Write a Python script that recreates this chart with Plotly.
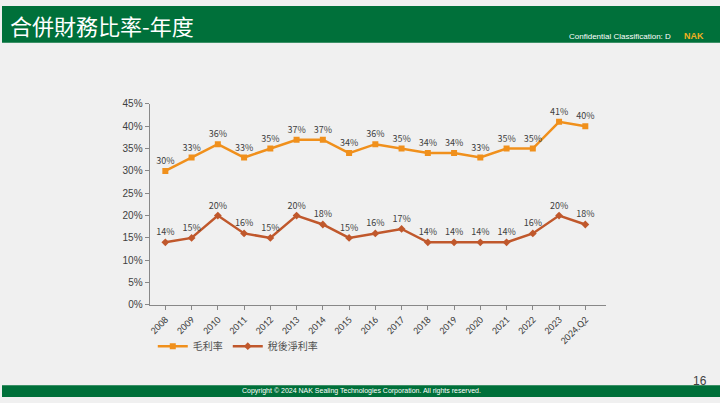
import plotly.graph_objects as go

years = ["2008", "2009", "2010", "2011", "2012", "2013", "2014", "2015", "2016",
         "2017", "2018", "2019", "2020", "2021", "2022", "2023", "2024.Q2"]
gross_margin = [30, 33, 36, 33, 35, 37, 37, 34, 36, 35, 34, 34, 33, 35, 35, 41, 40]
net_margin = [14, 15, 20, 16, 15, 20, 18, 15, 16, 17, 14, 14, 14, 14, 16, 20, 18]
y_ticks = [0, 5, 10, 15, 20, 25, 30, 35, 40, 45]

GREEN = "#00703a"
fig = go.Figure()
fig.add_trace(go.Scatter(
    x=years, y=gross_margin, name="毛利率", mode="lines+markers+text",
    line=dict(color="#f0901c", width=2.5), marker=dict(symbol="square", size=6),
    text=[f"{v}%" for v in gross_margin], textposition="top center",
    textfont=dict(size=9, color="#404040")))
fig.add_trace(go.Scatter(
    x=years, y=net_margin, name="稅後淨利率", mode="lines+markers+text",
    line=dict(color="#c0582c", width=2.5), marker=dict(symbol="diamond", size=6),
    text=[f"{v}%" for v in net_margin], textposition="top center",
    textfont=dict(size=9, color="#404040")))

fig.update_layout(
    autosize=False, width=720, height=403, margin=dict(l=0, r=0, t=0, b=0),
    paper_bgcolor="#f0f0f0", plot_bgcolor="rgba(0,0,0,0)",
    font=dict(family="Noto Sans CJK TC", size=9, color="#404040"),
    xaxis=dict(domain=[148/720, 606/720], tickangle=-45, showline=True,
               linecolor="#888", ticks="outside", ticklen=4, tickcolor="#888",
               showgrid=False, range=[-0.6, 16.8],
               tickfont=dict(size=10, family="Calibri, Liberation Sans")),
    yaxis=dict(domain=[(403-308)/403, (403-101)/403], range=[0, 45],
               tickvals=y_ticks, ticktext=[f"{v}%" for v in y_ticks],
               showline=True, linecolor="#888", ticks="outside", ticklen=4,
               tickcolor="#888", showgrid=False,
               tickfont=dict(size=10, family="Liberation Sans")),
    legend=dict(orientation="h", x=0.21, y=0.13, xanchor="left", yanchor="middle",
                bgcolor="rgba(0,0,0,0)", font=dict(size=10, color="#505050")),
    shapes=[
        dict(type="rect", xref="paper", yref="paper", x0=0, x1=1, y0=1-38/403, y1=1,
             fillcolor=GREEN, line_width=0, layer="below"),
        dict(type="rect", xref="paper", yref="paper", x0=0, x1=1, y0=0, y1=12/403,
             fillcolor=GREEN, line_width=0, layer="below"),
    ],
    annotations=[
        dict(text="合併財務比率-年度", x=6/720, y=1-20/403, xref="paper", yref="paper",
             xanchor="left", yanchor="middle", showarrow=False,
             font=dict(size=22, color="white", family="Noto Sans CJK TC")),
        dict(text="Confidential Classification: D", x=673/720, y=1-31/403, xref="paper",
             yref="paper", xanchor="right", yanchor="middle", showarrow=False,
             font=dict(size=8, color="white", family="Liberation Sans")),
        dict(text="<b>NAK</b>", x=694/720, y=1-31/403, xref="paper", yref="paper",
             xanchor="center", yanchor="middle", showarrow=False,
             font=dict(size=9, color="#f0b020", family="Liberation Sans")),
        dict(text="Copyright © 2024 NAK Sealing Technologies Corporation. All rights reserved.",
             x=360/720, y=6/403, xref="paper", yref="paper", xanchor="center",
             yanchor="middle", showarrow=False,
             font=dict(size=7, color="white", family="Liberation Sans")),
        dict(text="16", x=700/720, y=1-396/403, xref="paper", yref="paper",
             xanchor="center", yanchor="bottom", showarrow=False,
             font=dict(size=12, color="#404040", family="Liberation Sans")),
    ],
)
page_fix = ("document.documentElement.style.margin='0';"
            "document.body.style.margin='0';document.body.style.padding='0';"
            "document.body.style.overflow='hidden';")
fig.write_html("out.html", post_script=page_fix,
               config={"displayModeBar": False, "responsive": False})
